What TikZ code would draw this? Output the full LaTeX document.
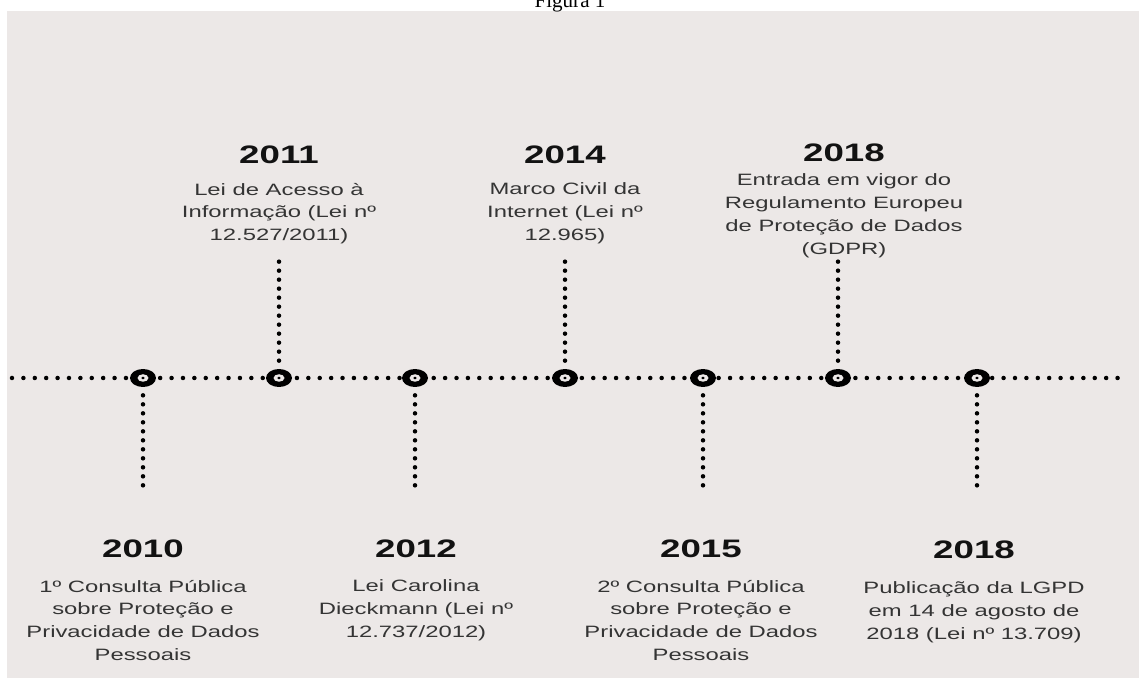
\documentclass[tikz,border=0pt]{standalone}
\usepackage{fontspec}
\setmainfont{Liberation Serif}
\newfontfamily\tlfont[FakeStretch=1.45]{Liberation Sans}
\usetikzlibrary{positioning}
\usetikzlibrary{shapes.geometric}
\definecolor{bggray}{RGB}{236,232,231}
\definecolor{yearblack}{RGB}{18,18,18}
\definecolor{textgray}{RGB}{52,52,52}

\begin{document}
\begin{tikzpicture}[
    x=0.02cm, y=-0.02cm,
    year/.style={font=\tlfont\bfseries\fontsize{14.4pt}{16pt}\selectfont, text=yearblack, inner sep=0pt, anchor=base},
    desc/.style={font=\tlfont\fontsize{9.35pt}{13.04pt}\selectfont, text=textgray, align=center, inner sep=0pt},
    ring/.style={ellipse, fill=black, minimum width=0.52cm, minimum height=0.36cm, inner sep=0pt,
        path picture={
            \fill[bggray] (path picture bounding box.center) ellipse [x radius=0.11cm, y radius=0.075cm];
            \fill[black] (path picture bounding box.center) ellipse [x radius=0.036cm, y radius=0.028cm];}},
    hdots/.style={line width=0.09cm, line cap=round, dash pattern=on 0pt off 0.228cm},
    vdots/.style={line width=0.09cm, line cap=round, dash pattern=on 0pt off 0.18cm, shorten <=0.16cm}
]
    \useasboundingbox (0,0) rectangle (1139,678);
    \fill[bggray] (7,11) rectangle (1139,678);
    \node[anchor=base, font=\fontsize{12pt}{14pt}\selectfont] (fig) at (570,8) {Figura 1};

    % Timeline
    \coordinate (tl-start) at (12,378);
    \coordinate (tl-end) at (1121,378);
    \draw[hdots] (tl-start) -- (tl-end);

    \node[ring] (r2010) at (143,378) {};
    \node[ring] (r2011) at (279,378) {};
    \node[ring] (r2012) at (415,378) {};
    \node[ring] (r2014) at (565,378) {};
    \node[ring] (r2015) at (703,378) {};
    \node[ring] (r2018a) at (838,378) {};
    \node[ring] (r2018b) at (977,378) {};

    % Stems
    \coordinate (e2010) at (143,494);
    \coordinate (e2011) at (279,258);
    \coordinate (e2012) at (415,494);
    \coordinate (e2014) at (565,258);
    \coordinate (e2015) at (703,494);
    \coordinate (e2018a) at (838,261);
    \coordinate (e2018b) at (977,494);
    \draw[vdots] (r2010) -- (e2010);
    \draw[vdots] (r2011) -- (e2011);
    \draw[vdots] (r2012) -- (e2012);
    \draw[vdots] (r2014) -- (e2014);
    \draw[vdots] (r2015) -- (e2015);
    \draw[vdots] (r2018a) -- (e2018a);
    \draw[vdots] (r2018b) -- (e2018b);

    % Events above
    \node[year] (y2011) at (279,164) {2011};
    \node[desc, below=0.36cm of y2011] (d2011) {Lei de Acesso à\\Informação (Lei nº\\12.527/2011)};
    \node[year] (y2014) at (565,164) {2014};
    \node[desc, below=0.36cm of y2014] (d2014) {Marco Civil da\\Internet (Lei nº\\12.965)};
    \node[year] (y2018a) at (844,162) {2018};
    \node[desc, below=0.22cm of y2018a] (d2018a) {Entrada em vigor do\\Regulamento Europeu\\de Proteção de Dados\\(GDPR)};

    % Events below
    \node[year] (y2010) at (143,557) {2010};
    \node[desc, below=0.44cm of y2010] (d2010) {1º Consulta Pública\\sobre Proteção e\\Privacidade de Dados\\Pessoais};
    \node[year] (y2012) at (416,557) {2012};
    \node[desc, below=0.44cm of y2012] (d2012) {Lei Carolina\\Dieckmann (Lei nº\\12.737/2012)};
    \node[year] (y2015) at (701,557) {2015};
    \node[desc, below=0.44cm of y2015] (d2015) {2º Consulta Pública\\sobre Proteção e\\Privacidade de Dados\\Pessoais};
    \node[year] (y2018b) at (974,559) {2018};
    \node[desc, below=0.44cm of y2018b] (d2018b) {Publicação da LGPD\\em 14 de agosto de\\2018 (Lei nº 13.709)};
\end{tikzpicture}
\end{document}
